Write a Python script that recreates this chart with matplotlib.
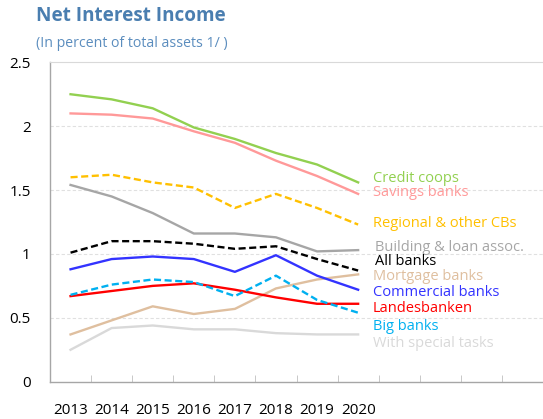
import matplotlib
matplotlib.use("Agg")
import matplotlib.pyplot as plt
from matplotlib.ticker import FixedLocator

plt.rcParams["font.family"] = ["Open Sans", "DejaVu Sans"]

years = ["2013", "2014", "2015", "2016", "2017", "2018", "2019", "2020"]

credit_coops = [2.25, 2.21, 2.14, 1.99, 1.90, 1.79, 1.70, 1.56]
savings_banks = [2.10, 2.09, 2.06, 1.96, 1.87, 1.73, 1.61, 1.47]
regional_cbs = [1.60, 1.62, 1.56, 1.52, 1.36, 1.47, 1.36, 1.23]
building_loan = [1.54, 1.45, 1.32, 1.16, 1.16, 1.13, 1.02, 1.03]
all_banks = [1.01, 1.10, 1.10, 1.08, 1.04, 1.06, 0.96, 0.87]
mortgage_banks = [0.37, 0.48, 0.59, 0.53, 0.57, 0.73, 0.80, 0.84]
commercial_banks = [0.88, 0.96, 0.98, 0.96, 0.86, 0.99, 0.83, 0.72]
landesbanken = [0.67, 0.71, 0.75, 0.77, 0.72, 0.66, 0.61, 0.61]
big_banks = [0.68, 0.76, 0.80, 0.78, 0.67, 0.83, 0.64, 0.54]
special_tasks = [0.25, 0.42, 0.44, 0.41, 0.41, 0.38, 0.37, 0.37]

# (label, values, colour, dashed, label y)
series = [
    ("Credit coops", credit_coops, "#92D050", False, 1.59),
    ("Savings banks", savings_banks, "#FF9999", False, 1.48),
    ("Regional & other CBs", regional_cbs, "#FFC000", True, 1.24),
    ("Building & loan assoc.", building_loan, "#A6A6A6", False, 1.05),
    ("All banks", all_banks, "#000000", True, 0.94),
    ("Mortgage banks", mortgage_banks, "#DFBF9F", False, 0.82),
    ("Commercial banks", commercial_banks, "#3333FF", False, 0.70),
    ("Landesbanken", landesbanken, "#FF0000", False, 0.57),
    ("Big banks", big_banks, "#00B0F0", True, 0.43),
    ("With special tasks", special_tasks, "#D9D9D9", False, 0.30),
]

fig = plt.figure(figsize=(5.43, 4.19), dpi=100)
ax = fig.add_axes([0.0921, 0.089, 0.9079, 0.7623])

x = list(range(len(years)))
for label, values, color, dashed, label_y in series:
    ls = (0, (3, 1.5)) if dashed else "-"
    ax.plot(x, values, color=color, lw=1.7, ls=ls, zorder=3)
    lx = 7.42 if label in ("Building & loan assoc.", "All banks") else 7.35
    ax.text(lx, label_y, label, color=color, fontsize=10.5, va="center", ha="left")

ax.set_xlim(-0.5, 11.5)
ax.set_ylim(0, 2.5)
ax.set_yticks([0, 0.5, 1, 1.5, 2, 2.5])
ax.set_yticklabels(["0", "0.5", "1", "1.5", "2", "2.5"])
ax.set_xticks(x)
ax.set_xticklabels(years)
ax.xaxis.set_minor_locator(FixedLocator([i + 0.5 for i in range(11)]))
ax.tick_params(axis="x", which="major", length=0, pad=15, labelsize=11)
ax.tick_params(axis="x", which="minor", direction="in", length=5, color="#BFBFBF")
ax.tick_params(axis="y", length=0, pad=14, labelsize=11)

for y in [0.5, 1, 1.5, 2]:
    ax.axhline(y, color="#E0E0E0", lw=0.8, ls=(0, (3, 2)), zorder=1)

for side in ["left", "bottom"]:
    ax.spines[side].set_color("#A6A6A6")
    ax.spines[side].set_linewidth(1.0)
ax.spines["top"].set_color("#D9D9D9")
ax.spines["top"].set_linewidth(0.8)
ax.spines["right"].set_visible(False)

fig.text(0.066, 0.962, "Net Interest Income", fontsize=13.6, fontweight="bold",
         color="#4A7EB0", va="center", ha="left")
fig.text(0.066, 0.897, "(In percent of total assets 1/ )", fontsize=10.2,
         color="#5B8DBE", va="center", ha="left")

fig.savefig("out.png", dpi=100)
